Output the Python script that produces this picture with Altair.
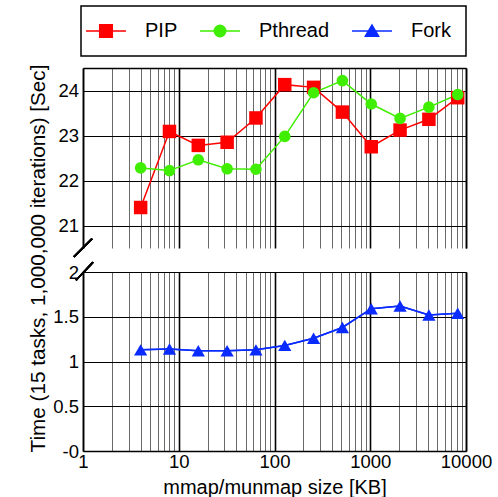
import altair as alt
import pandas as pd

# ---------------- data ----------------
sizes = [4, 8, 16, 32, 64, 128, 256, 512, 1024, 2048, 4096, 8192]
pip = [21.40, 23.09, 22.78, 22.85, 23.39, 24.13, 24.07, 23.52, 22.75, 23.12, 23.36, 23.84]
pthread = [22.28, 22.22, 22.46, 22.26, 22.25, 22.98, 23.95, 24.22, 23.70, 23.38, 23.63, 23.91]
fork = [1.13, 1.14, 1.12, 1.12, 1.13, 1.18, 1.26, 1.38, 1.59, 1.62, 1.52, 1.54]

series_names = ["PIP", "Pthread", "Fork"]
series_colors = ["#ff0000", "#3fee00", "#0a2bff"]

x_decades = [1, 10, 100, 1000, 10000]
x_grid_values = [m * d for d in [1, 10, 100, 1000] for m in range(1, 10)] + [10000]
y_top_ticks = [21, 22, 23, 24]
y_bottom_ticks = [0, 0.5, 1, 1.5, 2]

x_title = "mmap/munmap size [KB]"
y_title = "Time (15 tasks, 1,000,000 iterations) [Sec]"

FONT = "Liberation Sans"
TICK_FS = 18.5

df_top = pd.DataFrame({
    "size": sizes * 2,
    "time": pip + pthread,
    "series": ["PIP"] * len(sizes) + ["Pthread"] * len(sizes),
})
df_bot = pd.DataFrame({"size": sizes, "time": fork, "series": ["Fork"] * len(sizes)})

# legend symbols: a short line with the marker on it
legend_paths = [
    "M-2.857,0H2.857M-0.9,-0.9H0.9V0.9H-0.9Z",
    "M-2.857,0H2.857M0.82,0A0.82,0.82,0,1,1,-0.82,0A0.82,0.82,0,1,1,0.82,0Z",
    "M-2.857,0H2.857M0,-0.85L0.95,0.75H-0.95Z",
]

color_scale = alt.Scale(domain=series_names, range=series_colors)
x_scale = alt.Scale(type="log", domain=[1, 10000], nice=False)
y_top_scale = alt.Scale(domain=[20.5, 24.5], nice=False, zero=False)
y_bot_scale = alt.Scale(domain=[0, 2], nice=False)

major_test = "indexof([1, 10, 100, 1000, 10000], datum.value) >= 0"
grid_color = {"condition": {"test": major_test, "value": "#000000"}, "value": "#6a6a6a"}
grid_width = {"condition": {"test": major_test, "value": 1.6}, "value": 1}

x_top_axis = alt.Axis(
    orient="top", values=x_grid_values, labels=False, ticks=False, tickSize=0,
    title=None, grid=True, gridColor=grid_color, gridWidth=grid_width,
    domain=True, domainColor="black", domainWidth=1.5,
)
x_bot_axis = alt.Axis(
    orient="bottom", values=x_grid_values,
    labelExpr=f"{major_test} ? format(datum.value, 'd') : ''",
    labelFlush=False, labelOverlap=False, labelFont=FONT, labelFontSize=TICK_FS,
    labelColor="black", labelBaseline="alphabetic", labelPadding=16,
    ticks=False, tickSize=0,
    grid=True, gridColor=grid_color, gridWidth=grid_width,
    domain=True, domainColor="black", domainWidth=1.5,
    title=x_title, titleFont=FONT, titleFontSize=20, titleFontWeight="normal",
    titleColor="black", titleBaseline="alphabetic", titleY=42,
)

y_top_axis = alt.Axis(
    values=y_top_ticks, grid=True, gridColor="black", gridWidth=1,
    ticks=False, tickSize=0, domain=True, domainColor="black", domainWidth=1.5,
    labelFont=FONT, labelFontSize=TICK_FS, labelColor="black", labelPadding=4.5,
    title=None,
)
y_bot_axis = alt.Axis(
    values=y_bottom_ticks, format="~g",
    labelExpr="datum.value == 0 ? '-0' : datum.label",
    grid=True, gridColor="black", gridWidth=1,
    ticks=False, tickSize=0, domain=True, domainColor="black", domainWidth=1.5,
    labelFont=FONT, labelFontSize=TICK_FS, labelColor="black", labelPadding=4.5,
    title=y_title, titleFont=FONT, titleFontSize=20.7, titleFontWeight="normal",
    titleColor="black", titleAngle=270, titleAlign="center",
    titleBaseline="alphabetic", titleX=-39, titleY=-14,
)
right_axis = alt.Axis(
    orient="right", labels=False, ticks=False, tickSize=0, grid=False,
    domain=True, domainColor="black", domainWidth=1.5, title=None,
)

legend_def = alt.Legend(
    title=None, orient="none", legendX=-2, legendY=-62, direction="horizontal",
    strokeColor="black", padding=15, columnPadding=19, labelOffset=29,
    labelFont=FONT, labelFontSize=20, labelColor="black",
    symbolSize=196, symbolStrokeWidth=1.5, symbolOpacity=1,
)

W = 383

# ---------------- top panel ----------------
yt_main = alt.Y("time:Q", scale=y_top_scale, axis=y_top_axis)
yt_none = alt.Y("time:Q", scale=y_top_scale, axis=None)
yt_right = alt.Y("time:Q", scale=y_top_scale, axis=right_axis)
xt = alt.X("size:Q", scale=x_scale, axis=x_top_axis)
col = alt.Color("series:N", scale=color_scale, legend=None)

pip_line = alt.Chart(df_top).transform_filter(alt.datum.series == "PIP").mark_line(
    strokeWidth=1.5).encode(x=xt, y=yt_main, color=col)
pth_line = alt.Chart(df_top).transform_filter(alt.datum.series == "Pthread").mark_line(
    strokeWidth=1.5).encode(x=xt, y=yt_right, color=col)
pip_pts = alt.Chart(df_top).transform_filter(alt.datum.series == "PIP").mark_point(
    shape="square", filled=True, size=182, opacity=1).encode(x=xt, y=yt_none, color=col)
pth_pts = alt.Chart(df_top).transform_filter(alt.datum.series == "Pthread").mark_point(
    shape="circle", filled=True, size=135, opacity=1).encode(x=xt, y=yt_none, color=col)

legend_layer = alt.Chart(df_top).transform_filter("false").mark_point(
    filled=True, size=196, strokeWidth=1.5, opacity=1).encode(
    x=xt, y=yt_none,
    fill=alt.Fill("series:N", scale=alt.Scale(domain=series_names, range=series_colors), legend=legend_def),
    stroke=alt.Stroke("series:N", scale=alt.Scale(domain=series_names, range=series_colors), legend=legend_def),
    shape=alt.Shape("series:N", scale=alt.Scale(domain=series_names, range=legend_paths), legend=legend_def),
)

break_top = alt.Chart(df_top).mark_rule(strokeWidth=1.5, color="black").encode(
    x=alt.value(-9), x2=alt.value(9), y=alt.value(188.7), y2=alt.value(170.7))

top = alt.layer(
    pip_line, pth_line, pip_pts, pth_pts, legend_layer, break_top
).resolve_axis(y="independent").properties(width=W, height=180, view=alt.ViewBackground(stroke=None))

# ---------------- bottom panel ----------------
yb_main = alt.Y("time:Q", scale=y_bot_scale, axis=y_bot_axis)
yb_none = alt.Y("time:Q", scale=y_bot_scale, axis=None)
yb_right = alt.Y("time:Q", scale=y_bot_scale, axis=right_axis)
xb = alt.X("size:Q", scale=x_scale, axis=x_bot_axis)

fork_line = alt.Chart(df_bot).mark_line(strokeWidth=1.5).encode(x=xb, y=yb_main, color=col)
fork_right = alt.Chart(df_bot).mark_line(strokeWidth=1.5).encode(x=xb, y=yb_right, color=col)
fork_pts = alt.Chart(df_bot).mark_point(shape="triangle-up", filled=True, size=175, opacity=1).encode(
    x=xb, y=yb_none, color=col)

break_bot = alt.Chart(df_bot).mark_rule(strokeWidth=1.5, color="black").encode(
    x=alt.value(-7), x2=alt.value(10), y=alt.value(8.3), y2=alt.value(-9.7))

bottom = alt.layer(
    fork_line, fork_right, fork_pts, break_bot
).resolve_axis(y="independent").properties(width=W, height=179, view=alt.ViewBackground(stroke=None))

chart = alt.vconcat(top, bottom, spacing=24, bounds="flush").resolve_scale(
    fill="independent", stroke="independent", shape="independent"
).resolve_legend(
    fill="independent", stroke="independent", shape="independent"
).properties(
    padding={"left": 26, "top": 5, "right": 5, "bottom": 0},
).configure(font=FONT).configure_view(stroke=None).configure_legend(strokeWidth=1.5)

chart.save("out.html", embed_options={"renderer": "svg", "actions": False})
